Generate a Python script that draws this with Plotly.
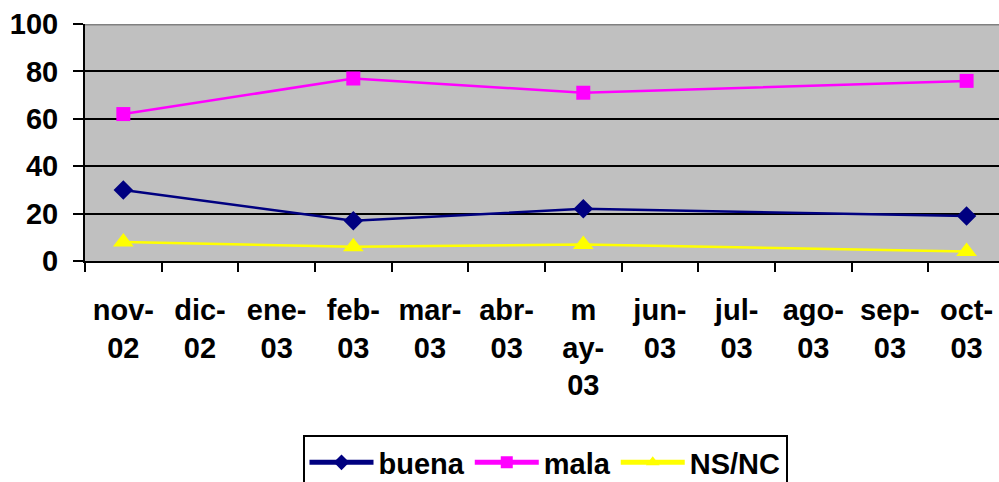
import plotly.graph_objects as go

categories = ["nov-02", "dic-02", "ene-03", "feb-03", "mar-03", "abr-03",
              "may-03", "jun-03", "jul-03", "ago-03", "sep-03", "oct-03"]
tick_labels = ["nov-<br>02", "dic-<br>02", "ene-<br>03", "feb-<br>03", "mar-<br>03", "abr-<br>03",
               "m<br>ay-<br>03", "jun-<br>03", "jul-<br>03", "ago-<br>03", "sep-<br>03", "oct-<br>03"]
buena = [30, None, None, 17, None, None, 22, None, None, None, None, 19]
mala = [62, None, None, 77, None, None, 71, None, None, None, None, 76]
nsnc = [8, None, None, 6, None, None, 7, None, None, None, None, 4]
y_ticks = [0, 20, 40, 60, 80, 100]

W, H = 999, 482
L, R, T, B = 85, 0, 24, 221
plot_w = W - L - R
plot_h = H - T - B
unit = 76.66
x_max = -0.5 + plot_w / unit

FONT = "Liberation Sans, Arial, sans-serif"
FS = 29

fig = go.Figure()
series = [
    ("buena", buena, "#000080", "diamond", 15),
    ("mala", mala, "#FF00FF", "square", 14),
    ("NS/NC", nsnc, "#FFFF00", "triangle-up", 18),
]
for name, vals, col, sym, sz in series:
    fig.add_trace(go.Scatter(
        x=categories, y=vals, name=name, mode="lines+markers",
        connectgaps=True,
        line=dict(color=col, width=2.5),
        marker=dict(symbol=sym, size=sz, color=col, line=dict(width=0)),
    ))

fig.update_layout(
    width=W, height=H,
    margin=dict(l=L, r=R, t=T, b=B, pad=0, autoexpand=False),
    paper_bgcolor="white",
    plot_bgcolor="#C0C0C0",
    font=dict(family=FONT, size=FS, color="black", weight="bold"),
    showlegend=True,
    legend=dict(
        orientation="h",
        x=(545 - L) / plot_w, xanchor="center",
        y=-(435 - (T + plot_h)) / plot_h, yanchor="top",
        bgcolor="white", bordercolor="black", borderwidth=2,
        font=dict(family=FONT, size=FS, color="black", weight="bold"),
        itemsizing="constant",
        itemwidth=64,
    ),
    xaxis=dict(
        type="category",
        categoryorder="array", categoryarray=categories,
        tickvals=categories, ticktext=tick_labels,
        range=[-0.5, x_max],
        tickson="boundaries",
        ticks="outside", ticklen=9, tickwidth=2, tickcolor="black",
        showline=True, linecolor="black", linewidth=2,
        showgrid=False, zeroline=False,
        ticklabelstandoff=22,
        automargin=False,
        tickfont=dict(family=FONT, size=FS, color="black", weight="bold"),
        fixedrange=True,
    ),
    yaxis=dict(
        range=[0, 100],
        tickvals=y_ticks,
        ticks="outside", ticklen=10, tickwidth=2, tickcolor="black",
        showline=True, linecolor="black", linewidth=2,
        showgrid=True, gridcolor="black", gridwidth=2,
        zeroline=False,
        ticklabelstandoff=9,
        automargin=False,
        tickfont=dict(family=FONT, size=FS, color="black", weight="bold"),
        fixedrange=True,
    ),
    shapes=[dict(type="line", xref="paper", yref="y", x0=0, x1=1, y0=100, y1=100,
                 line=dict(color="#808080", width=3), layer="above")],
)

fig.write_html("out.html", config={"displayModeBar": False},
               post_script="document.body.style.margin='0';document.body.style.overflow='hidden';")
